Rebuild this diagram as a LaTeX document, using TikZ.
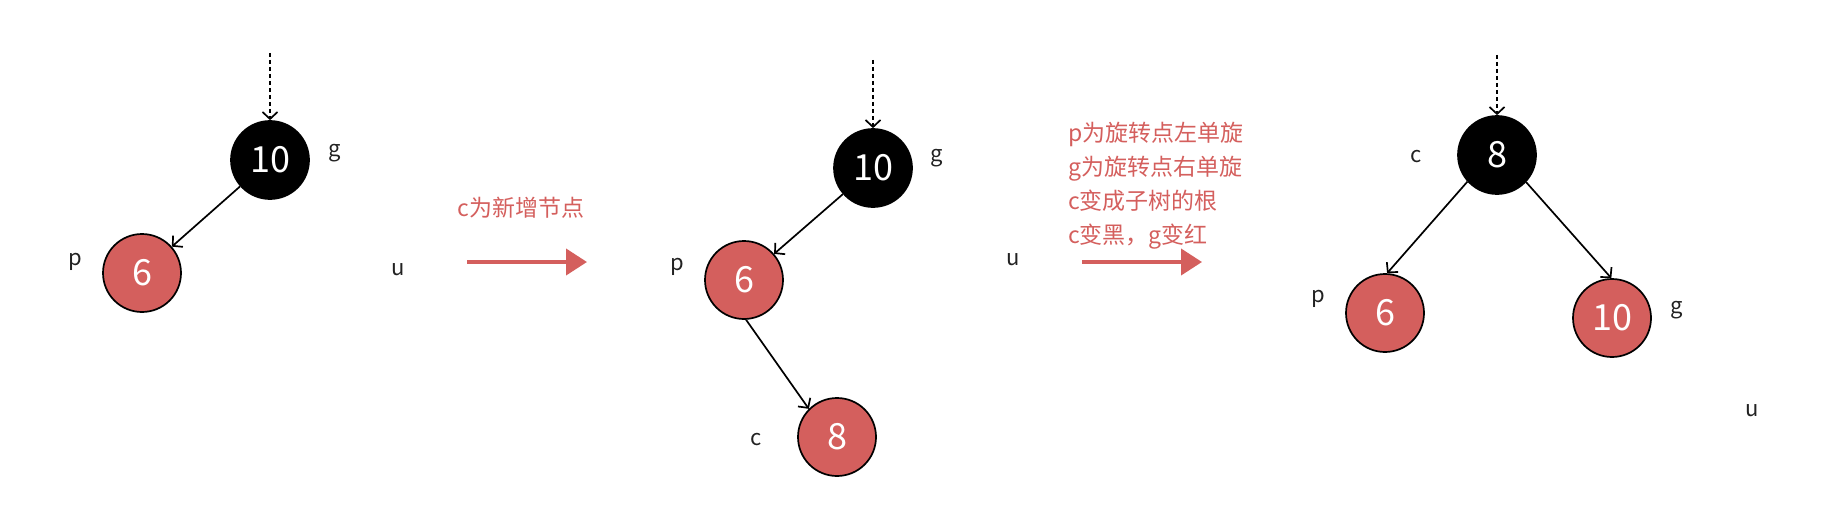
\documentclass[tikz,border=0pt]{standalone}
\usepackage{fontspec}
\setmainfont{Noto Sans CJK SC}
\usepackage{tikz}
\usetikzlibrary{positioning,arrows.meta,calc}
\definecolor{ink}     {HTML}{000000}
\definecolor{rbred}   {HTML}{D45F5D}
\definecolor{softink} {HTML}{222222}
\tikzset{
  >={Straight Barb[length=7pt,width=15pt]},
  % --- nodes
  rb/.style    = {circle, draw=ink, line width=1.7pt, minimum size=78pt, inner sep=0pt,
                  text=white, font=\fontsize{36}{36}\selectfont},
  blk/.style   = {rb, fill=ink},
  red/.style   = {rb, fill=rbred},
  tag/.style   = {font=\fontsize{22}{22}\selectfont, text=softink, inner sep=0pt},
  note/.style  = {font=\fontsize{23}{34}\selectfont, text=rbred, align=left, inner sep=0pt},
  % --- edges
  e/.style     = {->, line width=1.7pt, draw=ink},
  edot/.style  = {e, dash pattern=on 4pt off 3pt},
  flow/.style  = {-{Triangle[length=21pt,width=26pt]}, line width=4pt, draw=rbred},
}

\begin{document}
\begin{tikzpicture}[x=1pt,y=-1pt]
  \useasboundingbox (0,0) rectangle (1835,516);

  % first tree: c not yet there
  \node[blk] (g1) at (270,160) {10};
  \node[red] (p1) at (142,273) {6};
  \node[tag] (lg1) at (335,153) {g};
  \node[tag] (lp1) at (75,262)  {p};
  \node[tag] (lu1) at (398,270) {u};
  \coordinate (top1) at (270,53);
  \draw[edot] (top1) -- (g1.north);
  \draw[e] (g1) -- (p1);

  \node[note] (n1) at (521,208) {c为新增节点};
  \coordinate (r1s) at (467,262);
  \coordinate (r1e) at (587,262);
  \draw[flow] (r1s) -- (r1e);

  % second tree: c hangs right of p
  \node[blk] (g2) at (873,168) {10};
  \node[red] (p2) at (744,280) {6};
  \node[red] (c2) at (837,437) {8};
  \node[tag] (lg2) at (937,158)  {g};
  \node[tag] (lp2) at (677,267)  {p};
  \node[tag] (lu2) at (1013,260) {u};
  \node[tag] (lc2) at (756,440)  {c};
  \coordinate (top2) at (873,60);
  \draw[edot] (top2) -- (g2.north);
  \draw[e] (g2) -- (p2);
  \draw[e] (p2.-87) -- (c2.135);

  \node[note, anchor=west] (n2) at (1068,186)
    {p为旋转点左单旋\\g为旋转点右单旋\\c变成子树的根\\c变黑，g变红};
  \coordinate (r2s) at (1082,262);
  \coordinate (r2e) at (1202,262);
  \draw[flow] (r2s) -- (r2e);

  % third tree: after both rotations
  \node[blk] (c3) at (1497,155) {8};
  \node[red] (p3) at (1385,313) {6};
  \node[red] (g3) at (1612,318) {10};
  \node[tag] (lc3) at (1416,157) {c};
  \node[tag] (lp3) at (1318,299) {p};
  \node[tag] (lg3) at (1677,310) {g};
  \node[tag] (lu3) at (1752,411) {u};
  \coordinate (top3) at (1497,55);
  \draw[edot] (top3) -- (c3.north);
  \draw[e] (c3.222) -- (p3.87);
  \draw[e] (c3.-43) -- (g3.91);
\end{tikzpicture}
\end{document}
